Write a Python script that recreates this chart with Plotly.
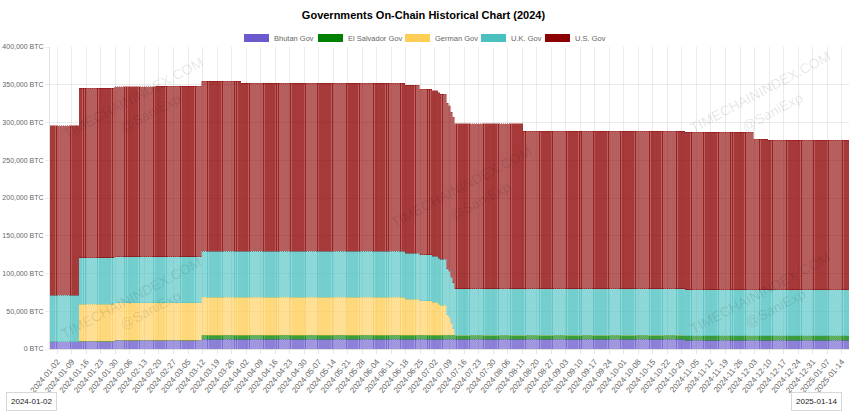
import pandas as pd
import plotly.graph_objects as go

# ---------------- data (step-wise holdings in BTC) ----------------
seg_start = ["2023-12-30", "2024-01-13", "2024-01-30", "2024-02-19", "2024-03-12",
             "2024-03-31", "2024-06-18", "2024-06-25", "2024-07-01", "2024-07-04",
             "2024-07-05", "2024-07-08", "2024-07-09", "2024-07-10", "2024-07-11",
             "2024-07-12", "2024-08-14", "2024-10-31", "2024-12-03", "2024-12-10"]
last_day = "2025-01-17"

bhutan      = [9700, 10500, 11900, 11900, 12800, 12800, 12800, 12800, 12800, 12800,
               12800, 12800, 12800, 12800, 12800, 12800, 12800, 11900, 11900, 11900]
el_salvador = [0, 0, 0, 0, 5700, 5700, 5700, 5700, 5700, 5700,
               5700, 5700, 5700, 5700, 5700, 5700, 5700, 5700, 5700, 5700]
german      = [0, 49000, 49400, 49400, 50000, 50000, 47300, 45500, 43500, 41000,
               39200, 26900, 23400, 15400, 8400, 0, 0, 0, 0, 0]
uk          = [61300, 61300, 60700, 60700, 61000, 61000, 61000, 61000, 61000, 61000,
               61000, 61000, 61000, 61000, 61000, 61000, 61000, 61000, 61000, 61000]
us          = [224500, 224500, 225300, 226000, 225000, 222500, 222500, 219000, 219000, 219000,
               219000, 219000, 219000, 219000, 219000, 219000, 208800, 208800, 199100, 198200]

series_names = ["Bhutan Gov", "El Salvador Gov", "German Gov", "U.K. Gov", "U.S. Gov"]
series_vals = [bhutan, el_salvador, german, uk, us]
series_colors = ["106,90,205", "0,128,0", "255,205,86", "75,192,192", "139,0,0"]

title_text = "Governments On-Chain Historical Chart (2024)"
range_start_label = "2024-01-02"
range_end_label = "2025-01-14"

# ---------------- expand step segments to daily bars ----------------
days = pd.date_range(seg_start[0], last_day, freq="D")
starts = pd.DatetimeIndex(pd.to_datetime(seg_start))
pos = starts.searchsorted(days, side="right") - 1

FONT = "Liberation Sans, Arial, Helvetica, sans-serif"

fig = go.Figure()
for name, vals, col in zip(series_names, series_vals, series_colors):
    fig.add_trace(go.Bar(
        x=days, y=[vals[p] for p in pos], name=name,
        marker=dict(color=f"rgba({col},0.62)",
                    line=dict(color=f"rgba({col},1)", width=0.4)),
        showlegend=False,
    ))

# plot area in pixels
L, R, T, B = 50, 849, 47, 349
W, H = 860, 413


def px(x):
    return (x - L) / (R - L)


def py(y):
    return (B - y) / (B - T)


annotations = []
shapes = []

# manual legend
leg_rects = [244, 318, 405, 481, 545]
for name, col, x0 in zip(series_names, series_colors, leg_rects):
    shapes.append(dict(type="rect", xref="paper", yref="paper",
                       x0=px(x0), x1=px(x0 + 25), y0=py(42), y1=py(34),
                       fillcolor=f"rgb({col})", line=dict(width=0)))
    annotations.append(dict(xref="paper", yref="paper", x=px(x0 + 28), y=py(38.5),
                            xanchor="left", yanchor="middle", showarrow=False,
                            text=name, font=dict(family=FONT, size=7.5, color="#666")))

# watermarks
wm = [(133, 98, 150, 113), (131, 298, 150, 310), (461, 187, 480, 201),
      (760, 92, 772, 112), (760, 293, 775, 308)]
for x1, y1, x2, y2 in wm:
    annotations.append(dict(xref="paper", yref="paper", x=px(x1), y=py(y1),
                            xanchor="center", yanchor="middle", showarrow=False,
                            text="TIMECHAININDEX.COM", textangle=-28,
                            font=dict(family=FONT, size=14, color="rgba(0,0,0,0.11)")))
    annotations.append(dict(xref="paper", yref="paper", x=px(x2), y=py(y2),
                            xanchor="center", yanchor="middle", showarrow=False,
                            text="@SaniExp", textangle=-28,
                            font=dict(family=FONT, size=14, color="rgba(0,0,0,0.11)")))

# range labels at bottom
for lab, cx, cy in [(range_start_label, 31, 402), (range_end_label, 816, 401.5)]:
    annotations.append(dict(xref="paper", yref="paper", x=px(cx), y=py(cy),
                            xanchor="center", yanchor="middle", showarrow=False,
                            text=lab, bgcolor="white", bordercolor="#d8d8d8",
                            borderwidth=1, borderpad=4,
                            font=dict(family=FONT, size=8, color="#222")))

fig.update_layout(
    width=W, height=H,
    margin=dict(l=L, r=W - R, t=T, b=H - B, pad=0),
    paper_bgcolor="white", plot_bgcolor="white",
    barmode="stack", bargap=0.2,
    title=dict(text=f"<b>{title_text}</b>", x=423.5 / W, xanchor="center",
               y=1 - 15.5 / H, yanchor="middle",
               font=dict(family=FONT, size=11, color="#000")),
    xaxis=dict(type="date", range=["2023-12-29 12:00", "2025-01-17 12:00"],
               tick0="2024-01-02", dtick=7 * 86400000, tickformat="%Y-%m-%d",
               tickangle=-50, tickfont=dict(family=FONT, size=8, color="#666"),
               showgrid=True, gridcolor="rgba(0,0,0,0.08)", gridwidth=1,
               ticks="outside", ticklen=4, tickcolor="rgba(0,0,0,0.1)",
               showline=True, linecolor="rgba(0,0,0,0.12)", linewidth=1,
               automargin=False, fixedrange=True),
    yaxis=dict(range=[0, 400000], dtick=50000, tickformat=",d", ticksuffix=" BTC",
               tickfont=dict(family=FONT, size=7, color="#666"),
               showgrid=True, gridcolor="rgba(0,0,0,0.08)", gridwidth=1,
               ticks="outside", ticklen=4, tickcolor="rgba(0,0,0,0.08)",
               showline=True, linecolor="rgba(0,0,0,0.12)", linewidth=1,
               zeroline=False, automargin=False, fixedrange=True),
    annotations=annotations, shapes=shapes,
    showlegend=False,
)

fig.write_html("out.html")
